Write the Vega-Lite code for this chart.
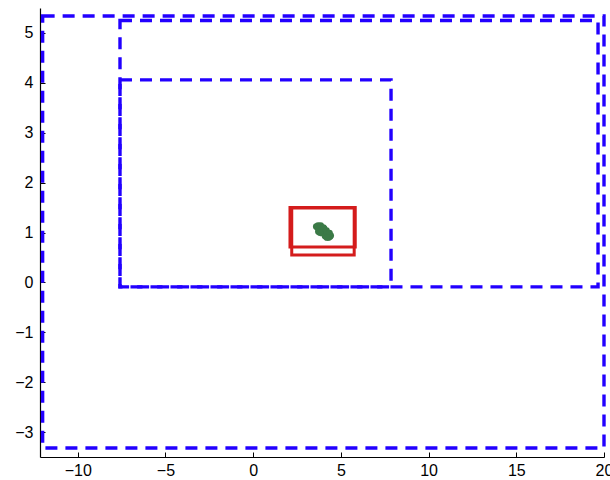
{
  "$schema": "https://vega.github.io/schema/vega-lite/v6.json",
  "width": 564,
  "height": 449,
  "autosize": {"type": "none"},
  "padding": {"left": 40, "top": 8, "right": 6, "bottom": 23},
  "background": "white",
  "config": {
    "view": {"stroke": null},
    "axis": {
      "grid": false,
      "domainColor": "black",
      "domainWidth": 1.2,
      "tickColor": "black",
      "tickSize": -5,
      "labelFont": "Liberation Sans",
      "labelFontSize": 16,
      "labelColor": "black",
      "title": null
    }
  },
  "datasets": {
    "blue": [
      {"name": "outer", "x1": -12, "x2": 20, "y1": -3.32, "y2": 5.34},
      {"name": "middle", "x1": -7.59, "x2": 19.66, "y1": -0.09, "y2": 5.25},
      {"name": "inner", "x1": -7.59, "x2": 7.86, "y1": -0.09, "y2": 4.06}
    ],
    "red": [
      {"name": "A", "x1": 2.1, "x2": 5.82, "y1": 0.71, "y2": 1.5},
      {"name": "B", "x1": 2.2, "x2": 5.76, "y1": 0.55, "y2": 1.49}
    ],
    "pts": [
      {"x": 3.6, "y": 1.12}, {"x": 3.68, "y": 1.1}, {"x": 3.75, "y": 1.06},
      {"x": 3.82, "y": 1.11}, {"x": 3.88, "y": 1.04}, {"x": 3.95, "y": 1.07},
      {"x": 4.0, "y": 1.01}, {"x": 4.08, "y": 1.03}, {"x": 4.12, "y": 0.97},
      {"x": 4.2, "y": 0.99}, {"x": 4.25, "y": 0.94}, {"x": 4.32, "y": 0.96},
      {"x": 4.38, "y": 0.92}, {"x": 4.42, "y": 0.94}, {"x": 4.3, "y": 0.9},
      {"x": 3.7, "y": 1.14}, {"x": 4.05, "y": 1.08}, {"x": 3.72, "y": 1.02},
      {"x": 3.9, "y": 0.99}, {"x": 4.1, "y": 0.93}, {"x": 3.85, "y": 1.14},
      {"x": 4.0, "y": 1.1}, {"x": 4.18, "y": 1.04}, {"x": 4.35, "y": 0.99},
      {"x": 3.8, "y": 1.0}, {"x": 4.2, "y": 0.9}
    ]
  },
  "layer": [
    {
      "data": {"name": "blue"},
      "mark": {"type": "rect", "filled": false, "stroke": "#2200ff", "strokeWidth": 3.4, "strokeDash": [12, 8], "fill": null},
      "encoding": {
        "x": {"field": "x1", "type": "quantitative", "scale": {"domain": [-12.15, 20], "nice": false, "zero": false},
              "axis": {"values": [-10, -5, 0, 5, 10, 15, 20], "labelPadding": 10, "labelFlush": false}},
        "x2": {"field": "x2"},
        "y": {"field": "y1", "type": "quantitative", "scale": {"domain": [-3.5, 5.5], "nice": false, "zero": false},
              "axis": {"values": [-3, -2, -1, 0, 1, 2, 3, 4, 5], "labelPadding": 12}},
        "y2": {"field": "y2"}
      }
    },
    {
      "data": {"name": "red"},
      "mark": {"type": "rect", "filled": false, "stroke": "#d41c1c", "strokeWidth": 3, "fill": null},
      "encoding": {
        "x": {"field": "x1", "type": "quantitative"},
        "x2": {"field": "x2"},
        "y": {"field": "y1", "type": "quantitative"},
        "y2": {"field": "y2"}
      }
    },
    {
      "data": {"name": "pts"},
      "mark": {"type": "circle", "color": "#3b7a47", "opacity": 1, "size": 45},
      "encoding": {
        "x": {"field": "x", "type": "quantitative"},
        "y": {"field": "y", "type": "quantitative"}
      }
    }
  ]
}
